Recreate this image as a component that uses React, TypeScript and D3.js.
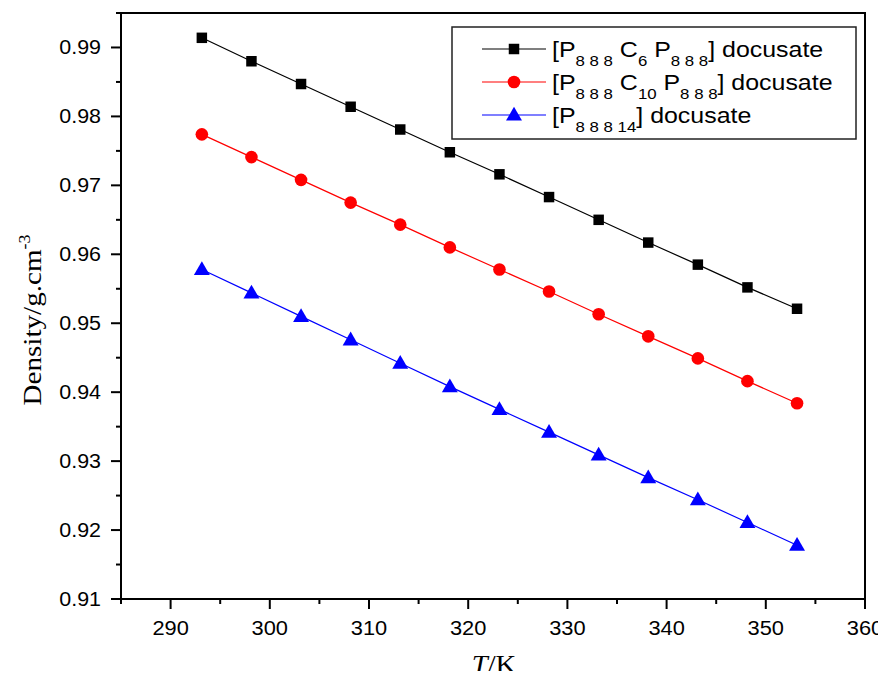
import { useRef, useEffect } from "react";
import * as d3 from "d3";

const temps = [293.15, 298.15, 303.15, 308.15, 313.15, 318.15, 323.15, 328.15, 333.15, 338.15, 343.15, 348.15, 353.15];
const c6Density = [0.9914, 0.988, 0.9847, 0.9814, 0.9781, 0.9748, 0.9716, 0.9683, 0.965, 0.9617, 0.9585, 0.9552, 0.9521];
const c10Density = [0.9774, 0.9741, 0.9708, 0.9675, 0.9643, 0.961, 0.9578, 0.9546, 0.9513, 0.9481, 0.9449, 0.9416, 0.9384];
const p14Density = [0.9578, 0.9544, 0.951, 0.9476, 0.9442, 0.9408, 0.9375, 0.9342, 0.9309, 0.9276, 0.9244, 0.9211, 0.9178];
const xTicks = [290, 300, 310, 320, 330, 340, 350, 360];
const yTicks = [0.91, 0.92, 0.93, 0.94, 0.95, 0.96, 0.97, 0.98, 0.99];

const App = () => {
  const svgRef = useRef<SVGSVGElement>(null);

  useEffect(() => {
    const svg = d3.select(svgRef.current);
    svg.selectAll("*").remove();

    const left = 121, right = 865, top = 13, bottom = 599;
    const x = d3.scaleLinear().domain([285, 360]).range([left, right]);
    const y = d3.scaleLinear().domain([0.91, 0.995]).range([bottom, top]);
    const sans = "Arial, 'Liberation Sans', sans-serif";
    const serif = "'Times New Roman', 'Liberation Serif', serif";

    const series = [
      { values: c6Density, color: "#000000", shape: "square" },
      { values: c10Density, color: "#ff0000", shape: "circle" },
      { values: p14Density, color: "#0000ff", shape: "triangle" },
    ];

    const symbolFor = (shape: string) =>
      shape === "square"
        ? d3.symbol(d3.symbolSquare, 110)
        : shape === "circle"
        ? d3.symbol(d3.symbolCircle, 125)
        : d3.symbol(d3.symbolTriangle, 110);

    // frame
    svg
      .append("rect")
      .attr("x", left)
      .attr("y", top)
      .attr("width", right - left)
      .attr("height", bottom - top)
      .attr("fill", "none")
      .attr("stroke", "#000")
      .attr("stroke-width", 2);

    // x axis
    const xMinor = d3.range(285, 361, 5);
    svg
      .append("g")
      .selectAll("line")
      .data(xMinor)
      .enter()
      .append("line")
      .attr("x1", (d) => x(d))
      .attr("x2", (d) => x(d))
      .attr("y1", bottom)
      .attr("y2", (d) => bottom + (d % 10 === 0 ? 10 : 5))
      .attr("stroke", "#000")
      .attr("stroke-width", 2);
    svg
      .append("g")
      .selectAll("text")
      .data(xTicks)
      .enter()
      .append("text")
      .attr("transform", (d) => `translate(${x(d)},635) scale(1.12,1)`)
      .attr("text-anchor", "middle")
      .style("font-family", sans)
      .style("font-size", "19.5px")
      .text((d) => d);

    // y axis
    const yMinor = d3.range(0, 18).map((i) => 0.91 + i * 0.005);
    svg
      .append("g")
      .selectAll("line")
      .data(yMinor)
      .enter()
      .append("line")
      .attr("x1", left)
      .attr("x2", (d, i) => left - (i % 2 === 0 ? 10 : 5))
      .attr("y1", (d) => y(d))
      .attr("y2", (d) => y(d))
      .attr("stroke", "#000")
      .attr("stroke-width", 2);
    svg
      .append("g")
      .selectAll("text")
      .data(yTicks)
      .enter()
      .append("text")
      .attr("transform", (d) => `translate(101,${y(d) + 7}) scale(1.1,1)`)
      .attr("text-anchor", "end")
      .style("font-family", sans)
      .style("font-size", "19.5px")
      .text((d) => d.toFixed(2));

    // axis titles
    const yTitle = svg
      .append("text")
      .attr("transform", "translate(41,320) rotate(-90) scale(1.12,1)")
      .attr("text-anchor", "middle")
      .style("font-family", serif)
      .style("font-size", "26px");
    yTitle.append("tspan").text("Density/g.cm");
    yTitle.append("tspan").attr("dy", -11).style("font-size", "16px").text("-3");

    const xTitle = svg
      .append("text")
      .attr("transform", "translate(494,673) scale(1.1,1)")
      .attr("text-anchor", "middle")
      .style("font-family", serif)
      .style("font-size", "26px");
    xTitle.append("tspan").style("font-style", "italic").text("T");
    xTitle.append("tspan").text("/K");

    // series
    const line = d3
      .line<number>()
      .x((d, i) => x(temps[i]))
      .y((d) => y(d));

    series.forEach((s) => {
      svg
        .append("path")
        .datum(s.values)
        .attr("d", line)
        .attr("fill", "none")
        .attr("stroke", s.color)
        .attr("stroke-width", 1.2);
      svg
        .append("g")
        .selectAll("path")
        .data(s.values)
        .enter()
        .append("path")
        .attr("transform", (d, i) => `translate(${x(temps[i])},${y(d) + (s.shape === "triangle" ? 1 : 0)})`)
        .attr("d", symbolFor(s.shape)())
        .attr("fill", s.color);
    });

    // legend
    const lg = svg.append("g");
    lg.append("rect")
      .attr("x", 452)
      .attr("y", 27)
      .attr("width", 404)
      .attr("height", 112)
      .attr("fill", "#fff")
      .attr("stroke", "#222")
      .attr("stroke-width", 1.5);

    const labels = [
      [["[P", ""], ["8 8 8", "sub"], [" C", ""], ["6", "sub"], [" P", ""], ["8 8 8", "sub"], ["] docusate", ""]],
      [["[P", ""], ["8 8 8", "sub"], [" C", ""], ["10", "sub"], [" P", ""], ["8 8 8", "sub"], ["] docusate", ""]],
      [["[P", ""], ["8 8 8 14", "sub"], ["] docusate", ""]],
    ];
    const rowY = [49, 82, 115];

    series.forEach((s, i) => {
      lg.append("line")
        .attr("x1", 482)
        .attr("x2", 546)
        .attr("y1", rowY[i])
        .attr("y2", rowY[i])
        .attr("stroke", s.color)
        .attr("stroke-width", 1.2);
      lg.append("path")
        .attr("transform", `translate(514,${rowY[i] + (s.shape === "triangle" ? 1 : 0)})`)
        .attr("d", symbolFor(s.shape)())
        .attr("fill", s.color);
      const t = lg
        .append("text")
        .attr("transform", `translate(552,${rowY[i] + 8}) scale(1.16,1)`)
        .style("font-family", sans)
        .style("font-size", "21.5px");
      let prevSub = false;
      labels[i].forEach(([str, kind]) => {
        const isSub = kind === "sub";
        const dy = isSub && !prevSub ? 9 : !isSub && prevSub ? -9 : 0;
        t.append("tspan")
          .attr("dy", dy)
          .style("font-size", isSub ? "14.5px" : "21.5px")
          .text(str);
        prevSub = isSub;
      });
    });
  }, []);

  return <svg ref={svgRef} width={886} height={679} style={{ display: "block", margin: "-8px" }} />;
};

export default App;
